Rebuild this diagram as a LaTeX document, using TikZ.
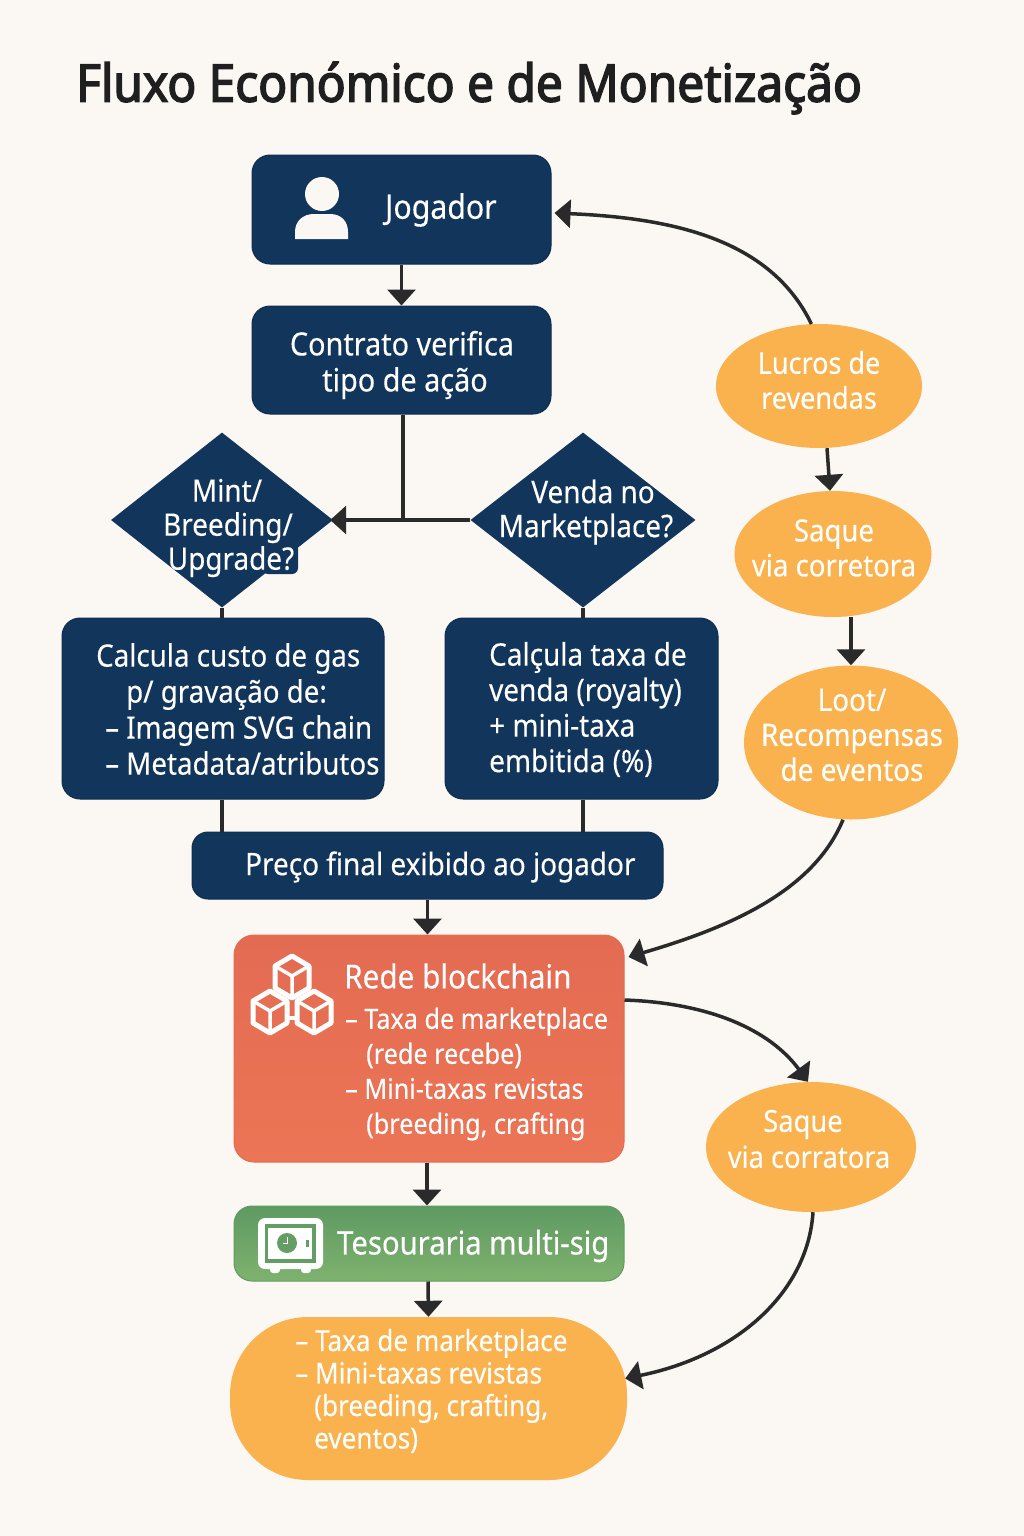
\documentclass[tikz,border=0pt]{standalone}
\usepackage{fontspec}
\usetikzlibrary{shapes.geometric,arrows.meta}
\newfontfamily\nf[FakeStretch=0.9,FakeBold=0.25]{Noto Sans}
\newfontfamily\tf[FakeStretch=0.92,FakeBold=2.8]{Noto Sans}
\definecolor{bgc}{HTML}{FBF8F4}
\definecolor{navy}{HTML}{12355B}
\definecolor{orangec}{HTML}{F9B24E}
\definecolor{inkc}{HTML}{2A2A2A}
\definecolor{redt}{HTML}{E36B52}
\definecolor{redb}{HTML}{EC7556}
\definecolor{grnt}{HTML}{5F9A62}
\definecolor{grnb}{HTML}{7EB26E}
\tikzset{
  x=1pt,y=-1pt,
  navybox/.style={rectangle,rounded corners=18pt,fill=navy,draw=navy!85!black,line width=1pt,inner sep=0},
  navydia/.style={diamond,aspect=1.27,fill=navy,inner sep=0},
  oval/.style={ellipse,fill=orangec,inner sep=0},
  txt/.style 2 args={text=white,inner sep=0,font={\nf\fontsize{#1}{#2}\selectfont}},
  line/.style={draw=inkc,line width=3.5pt},
  arr/.style={line,-{Triangle[length=16pt,width=28pt]}},
}
\begin{document}
\begin{tikzpicture}
\fill[bgc] (0,0) rectangle (1024,1536);
\useasboundingbox (0,0) rectangle (1024,1536);
\node[inner sep=0,anchor=west,text=black!88,font={\tf\fontsize{52}{58}\selectfont}] (title) at (76,88) {Fluxo Económico e de Monetização};
% shapes
\node[navybox,minimum width=299pt,minimum height=109pt] (jog) at (401.5,209.5) {};
\node[navybox,minimum width=299pt,minimum height=108pt] (con) at (401.5,360) {};
\node[navydia,minimum width=222pt,minimum height=175pt] (dl) at (222,520) {};
\node[navydia,minimum width=225pt,minimum height=175pt] (dr) at (583,520) {};
\node[navybox,minimum width=322pt,minimum height=181pt] (cl) at (223,708.5) {};
\node[navybox,minimum width=273pt,minimum height=181pt] (cr) at (581.5,708.5) {};
\node[navybox,rounded corners=16pt,minimum width=471pt,minimum height=67pt] (pre) at (427.5,865.5) {};
\node[rectangle,rounded corners=20pt,top color=redt,bottom color=redb,draw=redt,line width=1pt,minimum width=390pt,minimum height=227pt,inner sep=0] (rede) at (429,1048.5) {};
\node[rectangle,rounded corners=18pt,top color=grnt,bottom color=grnb,draw=grnt,line width=1pt,minimum width=390pt,minimum height=75pt,inner sep=0] (tes) at (429,1243.5) {};
\node[rectangle,rounded corners=78pt,fill=orangec,minimum width=397pt,minimum height=163pt,inner sep=0] (pill) at (428.5,1398.5) {};
\node[oval,minimum width=206pt,minimum height=124pt] (luc) at (819,386) {};
\node[oval,minimum width=197pt,minimum height=126pt] (saq) at (833,554) {};
\node[oval,minimum width=214pt,minimum height=154pt] (loot) at (851,742.5) {};
\node[oval,minimum width=210pt,minimum height=130pt] (saqb) at (811,1147) {};
% connectors
\draw[arr] (jog.south) -- (con.north);
\draw[line] ([xshift=1.5pt]con.south) -- ([xshift=1.5pt]con.south |- dr.west);
\draw[arr] (dr.west) -- ([xshift=-3pt]dl.east);
\draw[line] (dl.south) -- (dl.south |- cl.north);
\draw[line] (dr.south) -- (dr.south |- cr.north);
\draw[line] ([xshift=-1pt]cl.south) -- ([xshift=-1pt]cl.south |- pre.north);
\draw[line] ([xshift=1.5pt]cr.south) -- ([xshift=1.5pt]cr.south |- pre.north);
\draw[arr] (pre.south) -- (pre.south |- rede.north);
\draw[arr] ([xshift=-2pt]rede.south) -- ([xshift=-2pt]tes.north);
\draw[arr] ([xshift=-1pt]tes.south) -- (pill.north);
\draw[arr] (luc.97) .. controls (770,238) and (670,218) .. ([shift={(3pt,-3.5pt)}]jog.east);
\draw[arr] ([xshift=8pt]luc.south) -- ([xshift=-3pt]saq.north);
\draw[arr] ([xshift=18pt]saq.south) -- (loot.north);
\draw[arr] ([xshift=-8pt]loot.south) .. controls (812,895) and (720,930) .. ([shift={(4pt,91.5pt)}]rede.east);
\draw[arr] ([yshift=48.5pt]rede.east) .. controls (710,1003) and (770,1030) .. ([xshift=-3pt]saqb.north);
\draw[arr] ([xshift=2pt]saqb.south) .. controls (808,1290) and (740,1355) .. ([shift={(-2pt,20pt)}]pill.east);
% person icon
\fill[bgc] (322,194) circle (17);
\fill[bgc] (295,239) -- (295,232) .. controls (295,221) and (303,214) .. (314,214) -- (330,214) .. controls (341,214) and (348,221) .. (348,232) -- (348,239) -- cycle;
% cubes icon
\foreach \cx/\cy in {292/977,270/1012,314/1012}{
  \begin{scope}[shift={(\cx,\cy)}]
    \draw[white,line width=5pt,line join=round] (0,-21) -- (17,-11) -- (17,11) -- (0,21) -- (-17,11) -- (-17,-11) -- cycle;
    \draw[white,line width=3.5pt,line join=round] (-17,-11) -- (0,-1) -- (17,-11) (0,-1) -- (0,21);
  \end{scope}
}
\draw[white,line width=3.5pt] (288,1018) -- (296,1018);
% safe icon
\fill[white,rounded corners=3pt] (270,1266) rectangle (280,1273) (301,1266) rectangle (311,1273);
\fill[white,rounded corners=7pt] (258,1218) rectangle (323,1269);
\fill[grnt!85!grnb] (265,1224) rectangle (316,1263);
\fill[white] (268,1228) rectangle (312,1259);
\fill[grnt!85!grnb] (287,1243) circle (10);
\draw[white,line width=1pt] (287,1237) -- (287,1243) -- (283,1243);
\fill[grnt!85!grnb] (306,1240) rectangle (309,1247);
% dark halo behind the question mark that overruns the diamond
\fill[navy,rounded corners=6pt] (262,542) rectangle (298,574);
% texts
\node[txt={33.6}{36},anchor=west] (tjog) at (385,210) {Jogador};
\node[txt={32}{36},align=center] (tcon) at (402,365) {Contrato verifica\\\hspace*{6pt}tipo de ação};
\node[txt={31}{34},align=center] (tdl) at (228,528) {\hspace*{-2pt}Mint/\\Breeding/\\\hspace*{6pt}Upgrade?};
\node[txt={31}{34},align=center] (tdr) at (586,512) {\hspace*{14pt}Venda no\\Marketplace?};
\node[txt={30.8}{36},anchor=west,align=left] (tcl) at (96,709) {\hspace*{0pt}Calcula custo de gas\\\hspace*{30pt}p/ gravação de:\\\hspace*{9pt}– Imagem SVG chain\\\hspace*{9pt}– Metadata/atributos};
\node[txt={31}{35.5},anchor=west,align=left] (tcr) at (489,709.5) {Calçula taxa de\\venda (royalty)\\+ mini-taxa\\embitida (\%)};
\node[txt={31}{36},anchor=west] (tpre) at (245,867) {Preço final exibido ao jogador};
\node[txt={33}{36},anchor=west] (trt) at (344,976) {Rede blockchain};
\node[txt={28}{35},anchor=west,align=left] (trl) at (345,1074) {– Taxa de marketplace\\\hspace*{21pt}(rede recebe)\\– Mini-taxas revistas\\\hspace*{21pt}(breeding, crafting};
\node[txt={32.5}{36},anchor=west] (ttes) at (337,1246) {Tesouraria multi-sig};
\node[txt={29}{32.5},anchor=west,align=left] (tpill) at (295,1391) {– Taxa de marketplace\\– Mini-taxas revistas\\\hspace*{19pt}(breeding, crafting,\\\hspace*{19pt}eventos)};
\node[txt={30}{35},align=center] (tluc) at (819,380) {Lucros de\\revendas};
\node[txt={30.6}{35},align=center] (tsaq) at (834,548) {Saque\\via corretora};
\node[txt={31}{35},align=center] (tloot) at (852,735) {Loot/\\Recompensas\\de eventos};
\node[txt={30.3}{36},align=center] (tsaqb) at (809,1139) {\hspace*{-12pt}Saque\\via corratora};
\end{tikzpicture}
\end{document}
